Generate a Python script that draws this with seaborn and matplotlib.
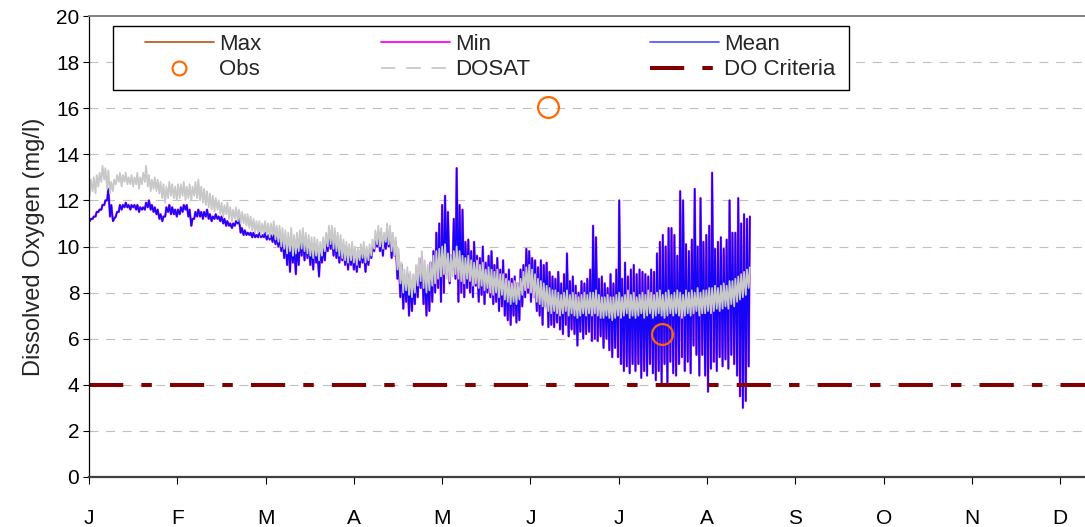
import numpy as np
import matplotlib
matplotlib.use("Agg")
import matplotlib.pyplot as plt
from matplotlib.lines import Line2D
from matplotlib.patches import Rectangle
import seaborn as sns

# ------------------------------------------------------------------
# Data (daily low / high of the diel cycle, day 0 = Jan 1)
# ------------------------------------------------------------------
mean_lo = [
    11.1, 11.2, 11.3, 11.5, 11.6, 11.8, 12.0, 11.3, 11.1, 11.3,
    11.5, 11.6, 11.7, 11.7, 11.6, 11.7, 11.6, 11.5, 11.6, 11.6,
    11.7, 11.6, 11.5, 11.4, 11.2, 11.1, 11.3, 11.5, 11.4, 11.4,
    11.3, 11.4, 11.5, 11.6, 11.3, 10.9, 11.2, 11.3, 11.3, 11.2,
    11.3, 11.2, 11.1, 11.2, 11.2, 11.1, 11.0, 10.9, 10.9, 10.8,
    10.9, 11.0, 10.6, 10.5, 10.5, 10.5, 10.4, 10.4, 10.4, 10.4,
    10.4, 10.3, 10.3, 10.2, 10.1, 10.0, 9.8, 9.5, 9.2, 8.9,
    9.3, 8.8, 9.2, 9.6, 9.4, 9.5, 9.2, 9.0, 9.3, 8.7,
    9.3, 9.4, 9.8, 9.9, 9.6, 9.5, 9.3, 9.4, 9.2, 9.0,
    9.2, 9.0, 8.9, 9.1, 9.3, 8.9, 9.2, 9.5, 9.8, 10.0,
    9.8, 9.6, 9.9, 10.0, 9.5, 9.6, 8.6, 7.8, 7.3, 7.6,
    7.0, 7.2, 7.5, 7.8, 8.2, 7.5, 7.0, 7.2, 7.6, 8.0,
    8.2, 7.6, 8.0, 8.8, 8.4, 9.0, 8.6, 7.6, 8.0, 7.8,
    8.2, 8.0, 7.8, 8.3, 7.6, 7.9, 7.5, 8.0, 7.8, 7.5,
    7.6, 7.2, 7.4, 7.0, 6.8, 6.6, 7.0, 6.7, 6.8, 7.4,
    7.8, 8.0, 7.6, 7.8, 7.2, 7.0, 6.6, 7.4, 6.5, 6.6,
    6.5, 6.7, 6.4, 6.2, 6.6, 6.1, 6.4, 6.2, 5.7, 6.3,
    6.0, 6.2, 6.3, 5.9, 6.0, 5.9, 6.1, 5.6, 6.0, 5.5,
    5.2, 5.6, 5.2, 4.9, 4.6, 4.8, 4.5, 4.9, 4.6, 4.9,
    4.3, 4.6, 4.4, 4.9, 4.5, 4.2, 4.6, 4.1, 4.9, 4.0,
    5.0, 4.5, 4.4, 4.9, 5.2, 4.6, 5.0, 4.5, 5.7, 5.3,
    4.4, 5.3, 4.4, 3.7, 4.7, 5.0, 4.6, 5.2, 4.8, 5.1,
    4.7, 5.3, 4.9, 4.4, 3.5, 3.0, 3.3, 4.8,
]
mean_hi = [
    11.2, 11.3, 11.5, 11.6, 11.8, 12.0, 12.5, 11.8, 11.2, 11.5,
    11.8, 11.8, 11.9, 11.8, 11.8, 11.8, 11.8, 11.7, 11.7, 11.9,
    12.0, 11.8, 11.7, 11.6, 11.4, 11.3, 11.7, 11.8, 11.7, 11.6,
    11.6, 11.7, 11.8, 11.8, 11.6, 11.2, 11.5, 11.6, 11.5, 11.5,
    11.6, 11.4, 11.3, 11.4, 11.3, 11.3, 11.2, 11.1, 11.0, 11.0,
    11.1, 11.2, 10.8, 10.7, 10.6, 10.6, 10.6, 10.5, 10.6, 10.5,
    10.6, 10.5, 10.5, 10.5, 10.4, 10.4, 10.4, 10.3, 10.2, 10.0,
    10.1, 9.9, 10.2, 10.4, 10.3, 10.2, 10.0, 10.1, 9.8, 9.8,
    9.9, 10.2, 10.5, 10.5, 10.3, 10.1, 10.0, 10.0, 9.9, 9.7,
    9.8, 9.6, 9.6, 9.8, 9.9, 9.6, 9.8, 10.0, 10.4, 10.6,
    10.4, 10.3, 10.5, 10.6, 10.4, 10.2, 9.6, 9.2, 8.6, 8.8,
    8.5, 8.3, 8.8, 9.2, 9.5, 9.0, 8.8, 9.3, 9.8, 10.6,
    11.0, 11.8, 12.2, 11.5, 9.6, 11.2, 13.4, 11.8, 11.6, 10.2,
    10.3, 9.8, 10.2, 9.6, 9.5, 10.0, 9.3, 9.6, 9.8, 9.2,
    9.5, 9.0, 9.4, 8.8, 9.0, 8.6, 8.7, 8.4, 9.0, 9.2,
    9.9, 9.8, 9.5, 9.4, 9.1, 9.4, 9.2, 9.3, 8.9, 8.7,
    8.6, 8.9, 8.4, 8.8, 9.7, 8.5, 8.7, 8.3, 8.0, 8.5,
    8.4, 8.6, 9.0, 10.9, 10.4, 8.6, 8.7, 8.4, 8.2, 8.8,
    8.4, 9.0, 12.0, 8.6, 9.3, 8.7, 9.0, 9.2, 8.8, 9.0,
    8.9, 8.8, 8.7, 9.0, 8.9, 9.7, 10.2, 10.5, 10.0, 10.8,
    10.8, 10.5, 9.6, 12.4, 12.0, 10.1, 9.8, 10.3, 12.5, 10.0,
    12.1, 10.2, 10.5, 10.9, 13.2, 9.9, 10.2, 10.4, 9.9, 10.3,
    12.0, 10.6, 10.6, 12.1, 11.0, 11.4, 11.2, 11.3,
]
dosat_lo = [
    12.2, 12.4, 12.3, 12.6, 12.8, 12.9, 12.5, 12.3, 12.4, 12.7,
    12.8, 12.6, 12.8, 12.7, 12.7, 12.6, 12.7, 12.5, 12.7, 12.8,
    12.6, 12.4, 12.5, 12.4, 12.3, 12.1, 11.9, 12.1, 12.2, 12.1,
    12.0, 12.1, 12.2, 12.0, 12.1, 12.0, 12.2, 12.1, 12.0, 11.9,
    11.8, 11.7, 11.6, 11.5, 11.6, 11.4, 11.3, 11.4, 11.2, 11.1,
    11.2, 11.1, 11.0, 11.0, 10.9, 10.8, 10.7, 10.6, 10.6, 10.5,
    10.6, 10.5, 10.4, 10.5, 10.3, 10.2, 10.0, 9.9, 9.7, 9.8,
    9.6, 9.7, 9.8, 9.9, 9.8, 9.7, 9.6, 9.5, 9.6, 9.4,
    9.6, 9.8, 10.0, 10.1, 9.9, 9.8, 9.6, 9.5, 9.4, 9.3,
    9.4, 9.3, 9.2, 9.4, 9.5, 9.3, 9.4, 9.6, 9.9, 10.1,
    10.0, 9.9, 10.2, 10.1, 9.8, 9.6, 9.0, 8.4, 8.0, 8.1,
    7.9, 7.8, 8.0, 8.3, 8.5, 8.2, 8.0, 8.1, 8.3, 8.4,
    8.6, 8.7, 8.8, 8.6, 8.5, 8.7, 8.8, 8.6, 8.5, 8.4,
    8.6, 8.5, 8.3, 8.4, 8.2, 8.3, 8.1, 8.2, 8.0, 7.9,
    8.0, 7.8, 7.9, 7.7, 7.6, 7.5, 7.6, 7.5, 7.7, 7.9,
    8.1, 8.2, 8.0, 7.8, 7.6, 7.5, 7.4, 7.3, 7.2, 7.1,
    7.2, 7.1, 7.0, 7.1, 7.2, 7.0, 7.1, 7.0, 6.9, 7.0,
    7.1, 7.0, 7.1, 7.0, 7.1, 7.0, 6.9, 6.9, 7.0, 6.9,
    6.8, 6.9, 7.0, 6.9, 7.0, 7.1, 6.9, 7.0, 6.9, 7.0,
    7.1, 6.9, 7.0, 7.1, 6.9, 7.0, 7.1, 7.0, 6.9, 7.0,
    7.1, 7.0, 7.1, 7.0, 6.9, 7.0, 7.1, 7.0, 7.1, 7.2,
    7.0, 7.1, 7.1, 7.2, 7.1, 7.2, 7.3, 7.2, 7.3, 7.4,
    7.3, 7.5, 7.4, 7.6, 7.7, 7.8, 7.9, 8.2,
]
dosat_hi = [
    12.9, 13.0, 13.1, 13.2, 13.5, 13.4, 13.3, 12.8, 12.9, 13.1,
    13.2, 13.1, 13.2, 13.0, 13.1, 13.0, 13.2, 13.0, 13.2, 13.5,
    13.1, 12.9, 13.0, 12.9, 12.8, 12.7, 12.6, 12.8, 12.7, 12.6,
    12.7, 12.7, 12.8, 12.6, 12.7, 12.6, 12.8, 12.9, 12.6, 12.5,
    12.4, 12.3, 12.2, 12.1, 12.0, 11.9, 11.8, 11.9, 11.7, 11.6,
    11.7, 11.6, 11.5, 11.4, 11.4, 11.3, 11.2, 11.1, 11.1, 11.0,
    11.1, 11.0, 11.0, 11.1, 10.9, 10.9, 10.8, 10.7, 10.6, 10.8,
    10.5, 10.6, 10.7, 10.8, 10.6, 10.5, 10.4, 10.4, 10.3, 10.2,
    10.4, 10.6, 10.9, 10.9, 10.8, 10.6, 10.5, 10.3, 10.2, 10.1,
    10.2, 10.0, 9.9, 10.1, 10.2, 10.0, 10.1, 10.3, 10.7, 10.9,
    10.8, 10.6, 11.0, 10.9, 10.6, 10.4, 9.9, 9.3, 9.0, 9.1,
    8.9, 8.8, 9.2, 9.5, 9.8, 9.4, 9.2, 9.3, 9.6, 9.8,
    9.9, 10.0, 10.1, 9.7, 9.6, 9.8, 10.0, 9.8, 9.6, 9.5,
    9.6, 9.4, 9.3, 9.4, 9.2, 9.3, 9.0, 9.1, 9.0, 8.9,
    9.0, 8.8, 8.8, 8.6, 8.5, 8.4, 8.5, 8.4, 8.6, 8.9,
    9.1, 9.2, 9.0, 8.8, 8.6, 8.5, 8.4, 8.3, 8.2, 8.1,
    8.1, 8.0, 7.9, 8.0, 8.1, 7.9, 8.0, 7.9, 7.8, 7.9,
    8.0, 7.9, 8.0, 8.0, 8.1, 7.9, 7.8, 7.8, 7.9, 7.8,
    7.8, 7.9, 8.0, 7.8, 7.9, 8.1, 7.9, 8.0, 7.8, 7.9,
    8.0, 7.9, 8.1, 8.0, 7.9, 8.0, 8.1, 7.9, 8.0, 8.1,
    7.9, 8.0, 8.1, 8.0, 7.9, 8.1, 8.0, 8.1, 8.0, 8.2,
    8.0, 8.1, 8.1, 8.2, 8.2, 8.3, 8.2, 8.3, 8.4, 8.3,
    8.5, 8.5, 8.6, 8.7, 8.8, 8.9, 9.0, 9.1,
]

obs_day = [158, 197.5]
obs_val = [16.05, 6.2]

crit_day = [0, 365]
crit_val = [4.0, 4.0]

month_labels = ["J", "F", "M", "A", "M", "J", "J", "A", "S", "O", "N", "D"]

# ------------------------------------------------------------------
# Build the diel series: low in the early morning, high in the afternoon
# ------------------------------------------------------------------
days = np.arange(len(mean_lo))
t = np.column_stack([days + 0.25, days + 0.65]).ravel()
mean = np.column_stack([mean_lo, mean_hi]).ravel()
dosat = np.column_stack([dosat_lo, dosat_hi]).ravel()

# ------------------------------------------------------------------
# Plot
# ------------------------------------------------------------------
sns.set_style("white")
plt.rcParams["font.family"] = ["Liberation Sans", "DejaVu Sans"]

fig = plt.figure(figsize=(10.85, 5.27), dpi=100)
ax = fig.add_axes([89 / 1085, 1 - 477 / 527, 1 - 89 / 1085, 461 / 527])

c_max, c_min, c_mean = "#c0602a", "#ff00ff", "#0000ff"
c_obs, c_dosat, c_crit = "#ff6600", "#c8c8c8", "#800000"
crit_dashes = (8.5, 4.5, 2.6, 4.5)

sns.lineplot(x=t, y=mean, ax=ax, color=c_max, lw=1.0,
             estimator=None, sort=False)
sns.lineplot(x=t, y=mean, ax=ax, color=c_min, lw=1.8,
             estimator=None, sort=False, alpha=0.6)
sns.lineplot(x=t, y=mean, ax=ax, color=c_mean, lw=1.2,
             estimator=None, sort=False, alpha=0.9)
sns.lineplot(x=t, y=dosat, ax=ax, color=c_dosat, lw=1.3,
             estimator=None, sort=False)
sns.lineplot(x=obs_day, y=obs_val, ax=ax, linestyle="", marker="o",
             markersize=15, markerfacecolor="none",
             markeredgecolor=c_obs, markeredgewidth=1.6)
sns.lineplot(x=crit_day, y=crit_val, ax=ax, color=c_crit, lw=2.9,
             estimator=None)
ax.lines[-1].set_dashes(crit_dashes)

ax.set_xlim(0, 996 / 2.903)
ax.set_ylim(0, 20)
ax.set_xticks(np.arange(12) * 365 / 12)
ax.set_xticklabels(month_labels)
ax.set_yticks(np.arange(0, 21, 2))

ax.yaxis.grid(True, color="#c0c0c0", lw=0.8, linestyle=(0, (8, 7)))
ax.xaxis.grid(False)
for gl in ax.yaxis.get_gridlines()[-1:]:
    gl.set_visible(False)

ax.spines["right"].set_visible(False)
ax.spines["left"].set_color("black")
ax.spines["left"].set_linewidth(0.9)
ax.spines["bottom"].set_color("#404040")
ax.spines["bottom"].set_linewidth(1.6)
ax.spines["top"].set_color("#808080")
ax.spines["top"].set_linewidth(1.4)

ax.tick_params(axis="x", direction="out", length=5, width=0.8,
               colors="black", labelsize=15, pad=18, bottom=True)
ax.tick_params(axis="y", direction="out", length=4, width=0.8,
               colors="black", labelsize=15, pad=3, left=True)

ax.set_xlabel("")
ax.set_ylabel("Dissolved Oxygen (mg/l)", fontsize=17, labelpad=8)

# legend (Excel style: three evenly spread columns in a black box)
handles = [
    Line2D([], [], color=c_max, lw=1.3),
    Line2D([], [], ls="", marker="o", ms=10, mfc="none", mec=c_obs, mew=1.5),
    Line2D([], [], color=c_min, lw=1.3),
    Line2D([], [], color=c_dosat, lw=1.3, dashes=(8, 6)),
    Line2D([], [], color="#5a5aff", lw=1.3),
    Line2D([], [], color=c_crit, lw=2.9, dashes=crit_dashes),
]
labels = ["Max", "Obs", "Min", "DOSAT", "Mean", "DO Criteria"]
fig.legend(handles, labels, ncol=3, loc="center left",
           bbox_to_anchor=(145 / 1085, 1 - 57 / 527),
           bbox_transform=fig.transFigure, frameon=False, fontsize=16,
           borderpad=0, borderaxespad=0, handlelength=3.1,
           handletextpad=0.22, columnspacing=5.4, labelspacing=0.22)
fig.patches.append(Rectangle((113 / 1085, 1 - 90 / 527), 736 / 1085,
                             64 / 527, transform=fig.transFigure,
                             fill=True, facecolor="white",
                             edgecolor="black", lw=1.0, zorder=3))
fig.legends[0].set_zorder(4)

fig.savefig("out.png", dpi=100)
plt.close(fig)
